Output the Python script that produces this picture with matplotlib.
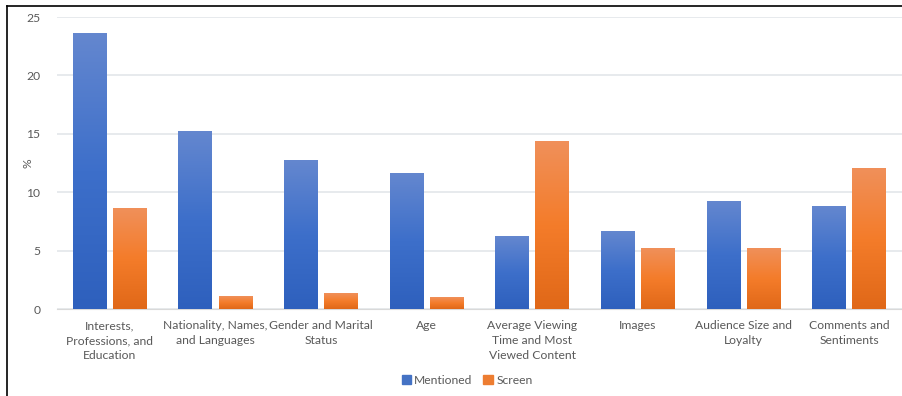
import matplotlib
matplotlib.use("Agg")
import matplotlib.pyplot as plt
import numpy as np
from matplotlib.lines import Line2D
from matplotlib.colors import LinearSegmentedColormap
from matplotlib.patches import Patch

plt.rcParams['font.family'] = ['Lato', 'DejaVu Sans']

categories = ["Interests,\nProfessions, and\nEducation", "Nationality, Names,\nand Languages",
              "Gender and Marital\nStatus", "Age", "Average Viewing\nTime and Most\nViewed Content",
              "Images", "Audience Size and\nLoyalty", "Comments and\nSentiments"]
mentioned = [23.6, 15.2, 12.7, 11.6, 6.2, 6.6, 9.2, 8.8]
screen = [8.6, 1.1, 1.3, 1.0, 14.3, 5.2, 5.2, 12.0]

text_col = "#595959"
blue_cmap = LinearSegmentedColormap.from_list("b", ["#2e60bd", "#3d6fca", "#6487cf"])
orange_cmap = LinearSegmentedColormap.from_list("o", ["#e06818", "#f47c2a", "#f0905a"])

fig = plt.figure(figsize=(9.02, 3.96), dpi=100)
ax = fig.add_axes([57/902, 1-309/396, 1-57/902, (309-17)/396])

x = np.arange(len(categories))
w = 0.32
off = 0.19
grad = np.linspace(0, 1, 256).reshape(-1, 1)

def gbar(xs, vals, cmap):
    for xc, v in zip(xs, vals):
        ax.imshow(grad, cmap=cmap, origin="lower", aspect="auto",
                  extent=(xc - w/2, xc + w/2, 0, v), zorder=3)

gbar(x - off, mentioned, blue_cmap)
gbar(x + off, screen, orange_cmap)

ax.set_xlim(-0.5, len(categories) - 0.5)
ax.set_ylim(0, 25)
ax.set_yticks([0, 5, 10, 15, 20, 25])
ax.grid(axis="y", color="#e3e6ea", linewidth=1.2, zorder=0)
ax.set_axisbelow(True)
for s in ["top", "right", "left"]:
    ax.spines[s].set_visible(False)
ax.spines["bottom"].set_color("#d9d9d9")
ax.tick_params(axis="both", length=0, colors=text_col, labelsize=8.7)
ax.tick_params(axis="y", pad=12)
ax.tick_params(axis="x", pad=8)
ax.set_xticks(x)
ax.set_xticklabels(categories, linespacing=1.45)
ax.set_ylabel("%", color=text_col, fontsize=8.7)
ax.yaxis.set_label_coords(-24/846, 0.5)

handles = [Patch(color="#4472c4", label="Mentioned"), Patch(color="#ed7d31", label="Screen")]
fig.legend(handles=handles, loc="center", bbox_to_anchor=(467/902, 1-380/396), ncol=2,
           frameon=False, fontsize=8.7, handlelength=0.8, handleheight=0.8,
           handletextpad=0.25, columnspacing=0.9, labelcolor=text_col)

fig.add_artist(Line2D([7/902, 7/902], [0, 1-6/396], color="black", linewidth=1.2))
fig.add_artist(Line2D([7/902, 1], [1-6/396, 1-6/396], color="black", linewidth=1.2))

fig.savefig("out.png", dpi=100)
